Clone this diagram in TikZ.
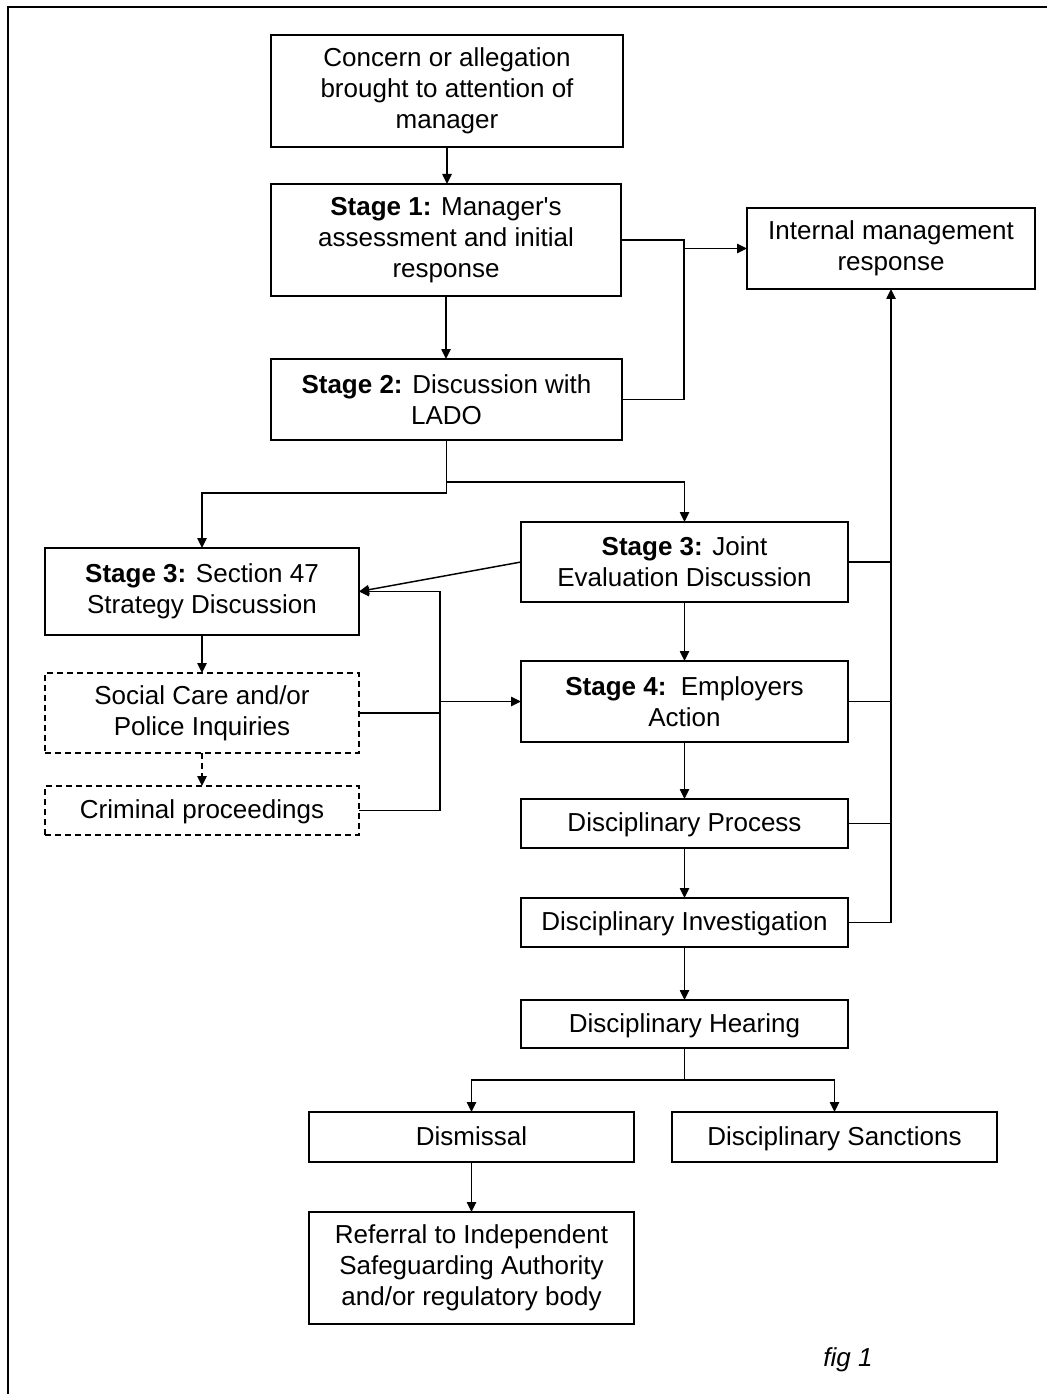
\documentclass[tikz,border=0pt]{standalone}
\usepackage{fontspec}
\setmainfont{Liberation Sans}[Ligatures=TeXOff]
\usetikzlibrary{arrows.meta}
\newcommand\fbx[7][box]{\node[#1, minimum width={(#5-#3)*0.75pt}, minimum height={(#6-#4)*0.75pt}] (#2) at ({(#3+#5)/2},{(#4+#6)/2}) {#7};}
\begin{document}
\begin{tikzpicture}[x=0.75pt,y=-0.75pt,
 box/.style={draw, line width=1.1pt, inner sep=0pt, outer sep=0pt, align=center, font=\fontsize{19.5}{23.25}\selectfont},
 onebox/.style={box, text height=14.5pt, text depth=2.5pt},
 dbox/.style={box, dash pattern=on 4.5pt off 3pt},
 conn/.style={line width=1.1pt},
 arr/.style={conn, -{Triangle[length=7.5pt,width=7pt]}},
]
\useasboundingbox (0,0) rectangle (1047,1394);
\coordinate (tl) at (8,7);
\draw[line width=1.6pt] (1047,7) -- (tl) -- (8,1394);

\fbx{concern}{271}{35}{623}{147}{Concern or allegation\\brought to attention of\\manager}
\fbx{s1}{271}{184}{621}{296}{\textbf{Stage 1:} Manager's\\assessment and initial\\response}
\fbx{imr}{747}{208}{1035}{289}{Internal management\\response}
\fbx{s2}{271}{359}{622}{440}{\textbf{Stage 2:} Discussion with\\LADO}
\fbx{s47}{45}{548}{359}{635}{\textbf{Stage 3:} Section 47\\Strategy Discussion}
\fbx{jed}{521}{522}{848}{602}{\textbf{Stage 3:} Joint\\Evaluation Discussion}
\fbx[dbox]{scp}{45}{673}{359}{753}{Social Care and/or\\Police Inquiries}
\fbx[dbox,onebox]{crim}{45}{786}{359}{835}{Criminal proceedings}
\fbx{s4}{521}{661}{848}{742}{\textbf{Stage 4:}\ \ Employers\\Action}
\fbx[onebox]{dp}{521}{799}{848}{848}{Disciplinary Process}
\fbx[onebox]{di}{521}{898}{848}{947}{Disciplinary Investigation}
\fbx[onebox]{dh}{521}{1000}{848}{1048}{Disciplinary Hearing}
\fbx[onebox]{dis}{309}{1112}{634}{1162}{Dismissal}
\fbx[onebox]{san}{672}{1112}{997}{1162}{Disciplinary Sanctions}
\fbx{ref}{309}{1212}{634}{1324}{Referral to Independent\\Safeguarding Authority\\and/or regulatory body}
\node[font=\fontsize{19.5}{23.25}\selectfont\itshape] (fig) at (848,1360) {fig 1};

% main column
\draw[arr] (concern.south) -- (concern.south |- s1.north);
\draw[arr] (s1.south) -- (s1.south |- s2.north);
\coordinate (jx) at (684,300);
\draw[conn] (s1.east) -| (jx |- s2.east) -- (s2.east);
\draw[arr] (jx |- imr.west) -- (imr.west);

% split after stage 2
\coordinate (sp) at (447,493);
\coordinate (sp2) at (447,482);
\draw[arr] (s2.south) -- (s2.south |- sp) -| (s47.north);
\draw[arr] (s2.south |- sp2) -| (jed.north);

\draw[arr] (jed.west) -- (s47.east);

% left feedback
\coordinate (fb) at (440,700);
\draw[arr] (crim.east) -| (fb |- s47.east) -- (s47.east);
\draw[conn] (scp.east) -- (scp.east -| fb);
\draw[arr] (fb |- s4.west) -- (s4.west);
\draw[arr] (s47.south) -- (scp.north);
\draw[arr, dash pattern=on 4.5pt off 3pt] (scp.south) -- (crim.north);

% right column
\draw[arr] (jed.south) -- (s4.north);
\draw[arr] (s4.south) -- (dp.north);
\draw[arr] (dp.south) -- (di.north);
\draw[arr] (di.south) -- (dh.north);

% right bus
\draw[arr] (di.east) -| (imr.south);
\draw[conn] (jed.east) -- (jed.east -| imr.south);
\draw[conn] (s4.east) -- (s4.east -| imr.south);
\draw[conn] (dp.east) -- (dp.east -| imr.south);

% hearing split
\coordinate (hs) at (684,1080);
\draw[conn] (dh.south) -- (dh.south |- hs);
\draw[arr] (dh.south |- hs) -| (dis.north);
\draw[arr] (dh.south |- hs) -| (san.north);
\draw[arr] (dis.south) -- (ref.north);
\end{tikzpicture}
\end{document}
